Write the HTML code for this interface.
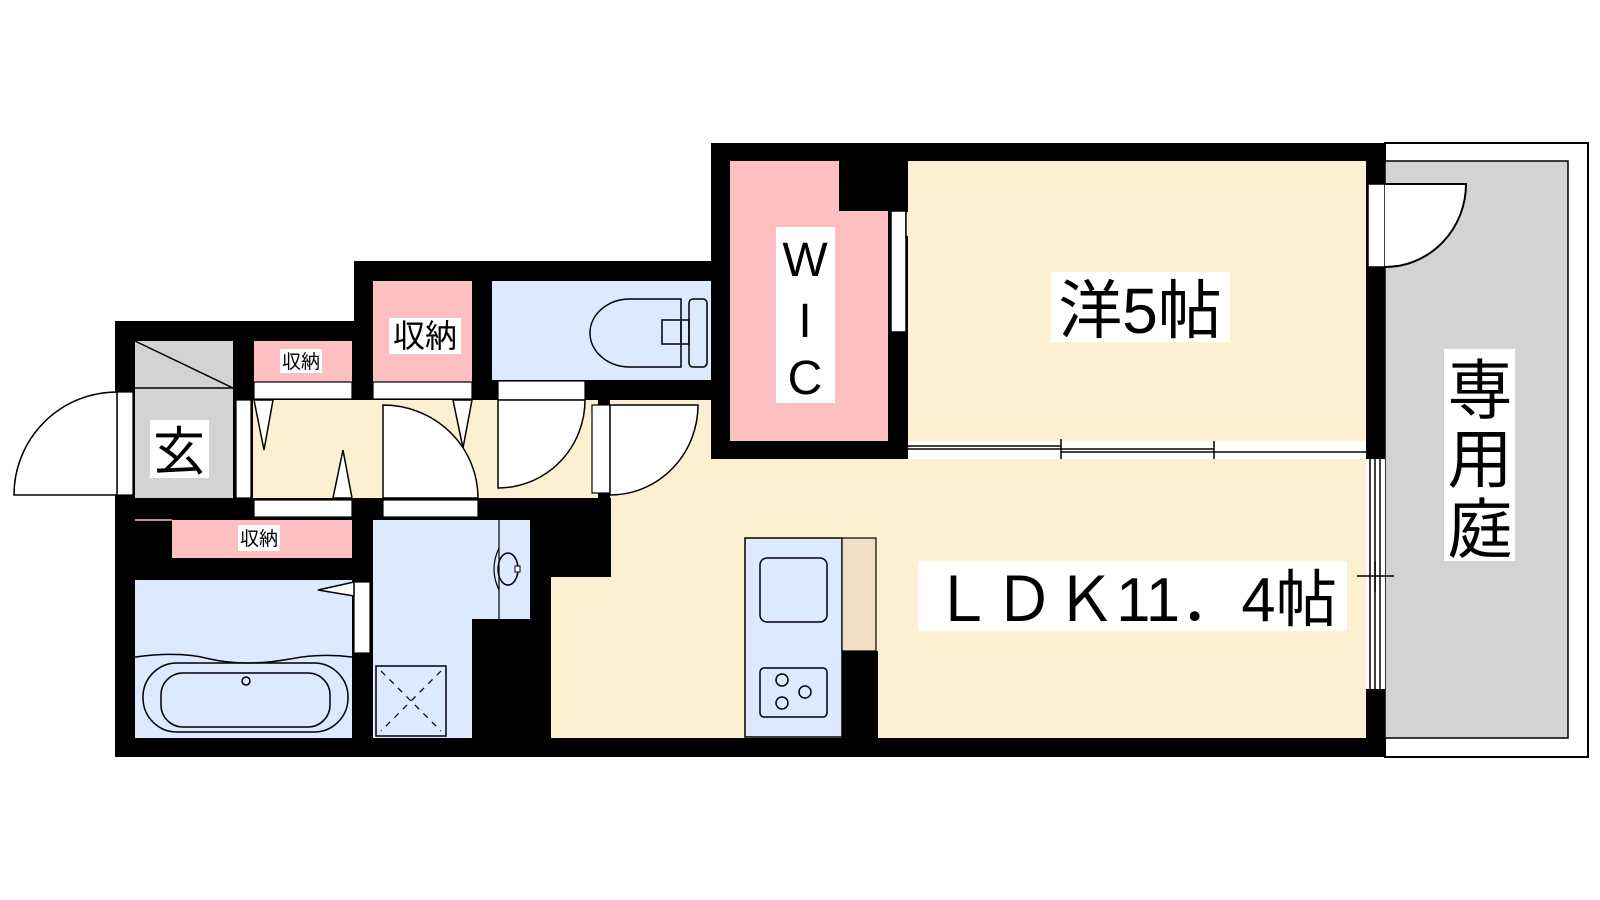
<!DOCTYPE html>
<html><head><meta charset="utf-8"><style>
html,body{margin:0;padding:0;background:#fff;}
svg{display:block}
text{font-family:"Liberation Sans","Noto Sans CJK JP",sans-serif;fill:#000}
</style></head><body>
<svg width="1600" height="900" viewBox="0 0 1600 900" xmlns="http://www.w3.org/2000/svg">
<rect width="1600" height="900" fill="#fff"/>
<!-- garden -->
<rect x="1385" y="143" width="203" height="614" fill="#fff" stroke="#000" stroke-width="2"/>
<rect x="1385" y="161" width="183" height="577" fill="#d3d3d3" stroke="#000" stroke-width="1.5"/>
<!-- black structure -->
<polygon points="115,321 354,321 354,261 711,261 711,143 1385,143 1385,757 115,757" fill="#000"/>
<!-- WIC -->
<polygon points="730,161 839,161 839,211 888,211 888,441 730,441" fill="#fdbfbf"/>
<rect x="891" y="211" width="15" height="121" fill="#fff" stroke="#000" stroke-width="1.5"/>
<polygon points="906,211 967,222 906,237" fill="#fff" stroke="#000" stroke-width="1.5"/>
<rect x="776" y="227" width="59" height="176" fill="#fff"/>
<text x="805" y="276" font-size="48" text-anchor="middle">W</text>
<text x="805" y="337" font-size="48" text-anchor="middle">I</text>
<text x="805" y="394" font-size="48" text-anchor="middle">C</text>
<!-- 洋 -->
<rect x="908" y="161" width="458" height="280" fill="#fdf0d1"/>
<rect x="1051" y="272" width="179" height="70" fill="#fff"/>
<text x="1140" y="333" font-size="64" text-anchor="middle">洋5帖</text>
<!-- sliding partition -->
<rect x="908" y="441" width="458" height="18" fill="#fff"/>
<line x1="908" y1="446" x2="1061" y2="446" stroke="#000" stroke-width="1.5"/>
<line x1="908" y1="449" x2="1061" y2="449" stroke="#000" stroke-width="1.5"/>
<line x1="1061" y1="449" x2="1214" y2="449" stroke="#000" stroke-width="1.5"/>
<line x1="1061" y1="452" x2="1214" y2="452" stroke="#000" stroke-width="1.5"/>
<line x1="1214" y1="452" x2="1366" y2="452" stroke="#000" stroke-width="1.5"/>
<line x1="1061" y1="439" x2="1061" y2="459" stroke="#000" stroke-width="1.5"/>
<line x1="1214" y1="441" x2="1214" y2="461" stroke="#000" stroke-width="1.5"/>
<!-- LDK -->
<polygon points="610,400 711,400 711,459 1366,459 1366,738 551,738 551,577 611,577 611,498 610,498" fill="#fdf0d1"/>
<rect x="1366" y="459" width="19" height="230" fill="#fff"/>
<line x1="1370" y1="459" x2="1370" y2="689" stroke="#000" stroke-width="1.5"/>
<line x1="1375" y1="459" x2="1375" y2="689" stroke="#000" stroke-width="1.5"/>
<line x1="1380" y1="459" x2="1380" y2="689" stroke="#000" stroke-width="1.5"/>
<line x1="1357" y1="576" x2="1394" y2="576" stroke="#000" stroke-width="1.5"/>
<line x1="1375" y1="561" x2="1375" y2="592" stroke="#000" stroke-width="1.5"/>
<!-- garden door -->
<rect x="1368" y="184" width="17" height="83" fill="#fff" stroke="#000" stroke-width="1.5"/>
<path d="M1385,184 L1466,184 A81,83 0 0 1 1385,267" fill="#fff" stroke="#000" stroke-width="2"/>
<!-- kitchen -->
<rect x="745" y="538" width="97" height="199" fill="#dbeafe" stroke="#000" stroke-width="1.5"/>
<rect x="760" y="558" width="67" height="64" rx="7" fill="#dbeafe" stroke="#000" stroke-width="1.5"/>
<rect x="760" y="668" width="67" height="49" rx="4" fill="#dbeafe" stroke="#000" stroke-width="1.5"/>
<circle cx="782" cy="680" r="6" fill="none" stroke="#000" stroke-width="1.5"/>
<circle cx="782" cy="703" r="6" fill="none" stroke="#000" stroke-width="1.5"/>
<circle cx="805" cy="692" r="6" fill="none" stroke="#000" stroke-width="1.5"/>
<rect x="842" y="538" width="34" height="113" fill="#f0dfc4" stroke="#000" stroke-width="1.2"/>
<rect x="842" y="651" width="36" height="87" fill="#000"/>
<rect x="918" y="561" width="429" height="70" fill="#fff"/>
<text x="932" y="621" font-size="62" textLength="405" lengthAdjust="spacingAndGlyphs">ＬＤＫ11．4帖</text>
<!-- 専用庭 label -->
<rect x="1444" y="349" width="71" height="212" fill="#fff"/>
<text x="1480" y="413" font-size="65" text-anchor="middle">専</text>
<text x="1480" y="482" font-size="65" text-anchor="middle">用</text>
<text x="1480" y="552" font-size="65" text-anchor="middle">庭</text>
<!-- toilet -->
<rect x="492" y="281" width="219" height="99" fill="#dbeafe"/>
<path d="M630,299 L681,299 L681,367 L630,367 A40,34 0 0 1 630,299 Z" fill="none" stroke="#000" stroke-width="1.5"/>
<path d="M681,320 L662,320 L662,344 L681,344" fill="none" stroke="#000" stroke-width="1.5"/>
<rect x="689" y="299" width="18" height="68" rx="4" fill="none" stroke="#000" stroke-width="1.5"/>
<rect x="681" y="320" width="8" height="24" fill="none" stroke="#000" stroke-width="1.5"/>
<!-- toilet door -->
<rect x="498" y="381" width="87" height="19" fill="#fff" stroke="#000" stroke-width="1.2"/>
<!-- hall -->
<rect x="253" y="400" width="345" height="98" fill="#fdf0d1"/>
<path d="M498,400 L498,488 A87,88 0 0 0 585,400 Z" fill="#fff" stroke="#000" stroke-width="1.5"/>
<rect x="592" y="405" width="18" height="88" fill="#fff" stroke="#000" stroke-width="1.2"/>
<path d="M610,405 L698,405 A88,90 0 0 1 610,495 Z" fill="#fff" stroke="#000" stroke-width="1.5"/>
<!-- small storage top -->
<rect x="254" y="341" width="98" height="41" fill="#fdbfbf"/>
<rect x="280" y="349" width="42" height="24" fill="#fff"/>
<text x="301" y="368" font-size="19" text-anchor="middle">収納</text>
<rect x="254" y="382" width="98" height="17" fill="#fff" stroke="#000" stroke-width="1.2"/>
<polygon points="254,400 273,400 264,450" fill="#fff" stroke="#000" stroke-width="1.5"/>
<!-- storage 2 -->
<rect x="373" y="281" width="99" height="101" fill="#fdbfbf"/>
<rect x="389" y="318" width="72" height="36" fill="#fff"/>
<text x="425" y="347" font-size="32" text-anchor="middle">収納</text>
<rect x="373" y="382" width="99" height="17" fill="#fff" stroke="#000" stroke-width="1.2"/>
<polygon points="453,400 472,400 463,448" fill="#fff" stroke="#000" stroke-width="1.5"/>
<!-- center door -->
<path d="M383,405 L383,498 L478,498 A95,93 0 0 0 383,405 Z" fill="#fff" stroke="#000" stroke-width="1.5"/>
<polygon points="333,498 352,498 343,450" fill="#fff" stroke="#000" stroke-width="1.5"/>
<rect x="254" y="500" width="98" height="17" fill="#fff" stroke="#000" stroke-width="1.2"/>
<rect x="383" y="500" width="95" height="17" fill="#fff" stroke="#000" stroke-width="1.2"/>
<!-- genkan -->
<rect x="135" y="341" width="98" height="157" fill="#d3d3d3"/>
<line x1="135" y1="341" x2="233" y2="388" stroke="#000" stroke-width="1.5"/>
<line x1="135" y1="388" x2="233" y2="388" stroke="#000" stroke-width="1.5"/>
<rect x="236" y="400" width="15" height="98" fill="#fff" stroke="#000" stroke-width="1.2"/>
<rect x="150" y="420" width="59" height="58" fill="#fff"/>
<text x="179" y="470" font-size="52" text-anchor="middle">玄</text>
<rect x="117" y="392" width="16" height="103" fill="#fff" stroke="#000" stroke-width="1.2"/>
<path d="M117,392 L117,495 L14,495 A103,103 0 0 1 117,392 Z" fill="#fff" stroke="#000" stroke-width="1.5"/>
<!-- bottom storage -->
<rect x="172" y="520" width="180" height="38" fill="#fdbfbf"/>
<line x1="135" y1="520" x2="172" y2="520" stroke="#fdbfbf" stroke-width="1.5"/>
<rect x="238" y="525" width="42" height="26" fill="#fff"/>
<text x="259" y="545" font-size="19" text-anchor="middle">収納</text>
<!-- bath -->
<rect x="135" y="580" width="217" height="158" fill="#dbeafe"/>
<path d="M135,657 Q180,651 210,659 Q245,667 290,659 Q320,653 352,657" fill="none" stroke="#000" stroke-width="1.5"/>
<rect x="143" y="663" width="205" height="69" rx="34" fill="none" stroke="#000" stroke-width="1.5"/>
<rect x="161" y="673" width="169" height="54" rx="22" fill="none" stroke="#000" stroke-width="1.5"/>
<circle cx="246" cy="681" r="4" fill="none" stroke="#000" stroke-width="1.5"/>
<rect x="354" y="582" width="16" height="71" fill="#fff" stroke="#000" stroke-width="1.2"/>
<polygon points="354,582 318,590 354,596" fill="#fff" stroke="#000" stroke-width="1.5"/>
<!-- washroom -->
<polygon points="373,520 530,520 530,619 472,619 472,738 373,738" fill="#dbeafe"/>
<line x1="499" y1="520" x2="499" y2="619" stroke="#000" stroke-width="1.2"/>
<ellipse cx="508" cy="569" rx="10" ry="16" fill="none" stroke="#000" stroke-width="1.5"/>
<path d="M499,548 Q489,569 499,590" fill="none" stroke="#000" stroke-width="1.2"/>
<rect x="515" y="566" width="5" height="6" fill="#fff" stroke="#000" stroke-width="1"/>
<rect x="376" y="666" width="70" height="70" fill="none" stroke="#000" stroke-width="1.5"/>
<line x1="381" y1="671" x2="441" y2="731" stroke="#000" stroke-width="1.2" stroke-dasharray="6,6"/>
<line x1="441" y1="671" x2="381" y2="731" stroke="#000" stroke-width="1.2" stroke-dasharray="6,6"/>
<!-- fix bottom wall -->
<rect x="115" y="738" width="1270" height="19" fill="#000"/>
</svg>
</body></html>
